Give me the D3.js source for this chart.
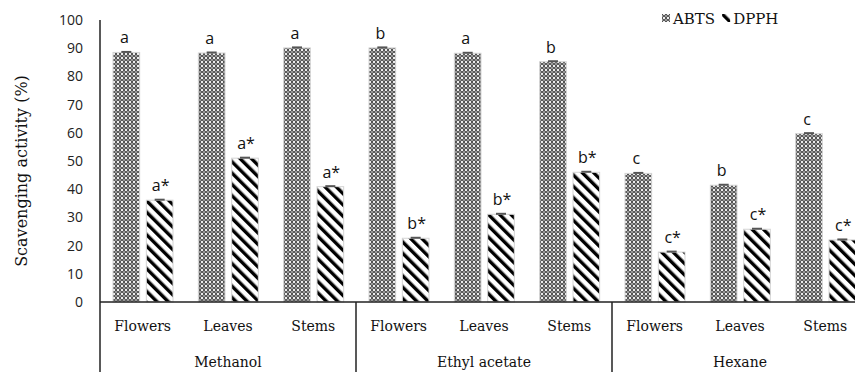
<!DOCTYPE html>
<html>
<head>
<meta charset="utf-8">
<script src="https://cdn.jsdelivr.net/npm/d3@7"></script>
<style>
  body { margin: 0; background: #fff; }
  svg { display: block; }
</style>
</head>
<body>
<svg id="chart"></svg>
<script>
// data
const solvents = ["Methanol", "Ethyl acetate", "Hexane"];
const parts = ["Flowers", "Leaves", "Stems"];
const series = ["ABTS", "DPPH"];
const abts = [88.5, 88.3, 90.1, 90.1, 88.2, 85.2, 45.6, 41.4, 59.7];
const dpph = [36.1, 51.0, 40.9, 22.6, 31.1, 46.0, 17.7, 25.8, 22.0];
const abtsLetters = ["a", "a", "a", "b", "a", "b", "c", "b", "c"];
const dpphLetters = ["a*", "a*", "a*", "b*", "b*", "b*", "c*", "c*", "c*"];
const yTicks = [0, 10, 20, 30, 40, 50, 60, 70, 80, 90, 100];

const W = 855, H = 372;
const serif = "'DejaVu Serif', serif";
const svg = d3.select("#chart").attr("width", W).attr("height", H);

// patterns
const defs = svg.append("defs");
const dots = defs.append("pattern")
  .attr("id", "pAbts").attr("patternUnits", "userSpaceOnUse")
  .attr("width", 4).attr("height", 4);
dots.append("rect").attr("width", 4).attr("height", 4).attr("fill", "#4a4a4a");
dots.append("circle").attr("cx", 2).attr("cy", 2).attr("r", 1.2).attr("fill", "#f0f0f0");
[[0, 0], [4, 0], [0, 4], [4, 4]].forEach(([cx, cy]) => {
  dots.append("circle").attr("cx", cx).attr("cy", cy).attr("r", 0.9).attr("fill", "#bdbdbd");
});

const stripes = defs.append("pattern")
  .attr("id", "pDpph").attr("patternUnits", "userSpaceOnUse")
  .attr("width", 8).attr("height", 8)
  .attr("patternTransform", "rotate(-45)");
stripes.append("rect").attr("width", 8).attr("height", 8).attr("fill", "#fff");
stripes.append("rect").attr("x", 0).attr("width", 3.4).attr("height", 8).attr("fill", "#000");

const fills = { ABTS: "url(#pAbts)", DPPH: "url(#pDpph)" };

// scales
const x0 = d3.scaleBand().domain(solvents).range([100, 868]);
const x1 = d3.scaleBand().domain(parts).range([0, x0.bandwidth()]);
const x2 = d3.scaleBand().domain(series).range([13, 73]).paddingInner(0.2);
const y = d3.scaleLinear().domain([0, 100]).range([302, 20]);

// y axis labels (no tick marks)
const yAxis = svg.append("g")
  .attr("transform", "translate(100,0)")
  .call(d3.axisLeft(y).tickValues(yTicks).tickSize(0).tickPadding(17));
yAxis.select(".domain").remove();
yAxis.selectAll("text")
  .style("font-family", "'Open Sans', sans-serif")
  .style("font-size", "14px")
  .attr("fill", "#222");

svg.append("text")
  .attr("transform", "translate(27,171) rotate(-90)")
  .attr("text-anchor", "middle")
  .style("font-family", serif)
  .style("font-size", "16px")
  .attr("fill", "#111")
  .text("Scavenging activity  (%)");

// rows
const rows = [];
solvents.forEach((s, i) => {
  parts.forEach((p, j) => {
    const k = i * 3 + j;
    rows.push({ solvent: s, part: p, key: "ABTS", value: abts[k], letter: abtsLetters[k] });
    rows.push({ solvent: s, part: p, key: "DPPH", value: dpph[k], letter: dpphLetters[k] });
  });
});
const bx = d => x0(d.solvent) + x1(d.part) + x2(d.key);

const bars = svg.append("g");
bars.selectAll("rect")
  .data(rows)
  .join("rect")
  .attr("x", bx)
  .attr("y", d => y(d.value))
  .attr("width", x2.bandwidth())
  .attr("height", d => y(0) - y(d.value))
  .attr("fill", d => fills[d.key])
  .attr("stroke", "#d4d4d4")
  .attr("stroke-width", 1);

// error caps
bars.selectAll("line.err")
  .data(rows)
  .join("line")
  .attr("class", "err")
  .attr("x1", d => bx(d) + x2.bandwidth() / 2 - 5)
  .attr("x2", d => bx(d) + x2.bandwidth() / 2 + 5)
  .attr("y1", d => y(d.value) - 0.5)
  .attr("y2", d => y(d.value) - 0.5)
  .attr("stroke", "#555")
  .attr("stroke-width", 2);

// significance letters
svg.append("g").selectAll("text")
  .data(rows)
  .join("text")
  .attr("x", d => bx(d) + x2.bandwidth() / 2 + (d.key === "DPPH" ? 1 : -2))
  .attr("y", d => y(d.value) - 9)
  .attr("text-anchor", "middle")
  .style("font-family", "'Open Sans', sans-serif")
  .style("font-size", "16px")
  .attr("fill", "#111")
  .text(d => d.letter);

// frame lines
const frame = svg.append("g").attr("stroke", "#222").attr("stroke-width", 1.5);
frame.append("line").attr("x1", 100).attr("x2", 100).attr("y1", 20).attr("y2", H);
frame.append("line").attr("x1", 100).attr("x2", W).attr("y1", y(0)).attr("y2", y(0));
frame.selectAll("line.sep")
  .data(solvents.slice(1))
  .join("line")
  .attr("class", "sep")
  .attr("x1", d => x0(d)).attr("x2", d => x0(d))
  .attr("y1", y(0)).attr("y2", H);

// category labels
const catG = svg.append("g")
  .style("font-family", serif)
  .attr("fill", "#111")
  .attr("text-anchor", "middle");
solvents.forEach(s => {
  parts.forEach(p => {
    catG.append("text")
      .attr("x", x0(s) + x1(p) + x1.bandwidth() / 2)
      .attr("y", 331)
      .style("font-size", "14px")
      .text(p);
  });
  catG.append("text")
    .attr("x", x0(s) + x0.bandwidth() / 2)
    .attr("y", 367)
    .style("font-size", "14px")
    .text(s);
});

// legend
const legend = svg.append("g").attr("transform", "translate(662,24)");
let lx = 0;
series.forEach(name => {
  legend.append("rect")
    .attr("x", lx).attr("y", -10)
    .attr("width", 8).attr("height", 8)
    .attr("fill", fills[name]);
  const t = legend.append("text")
    .attr("x", lx + 11).attr("y", 0)
    .style("font-family", serif)
    .style("font-size", "15px")
    .attr("fill", "#111")
    .text(name);
  lx += 11 + t.node().getComputedTextLength() + 7;
});
</script>
</body>
</html>
